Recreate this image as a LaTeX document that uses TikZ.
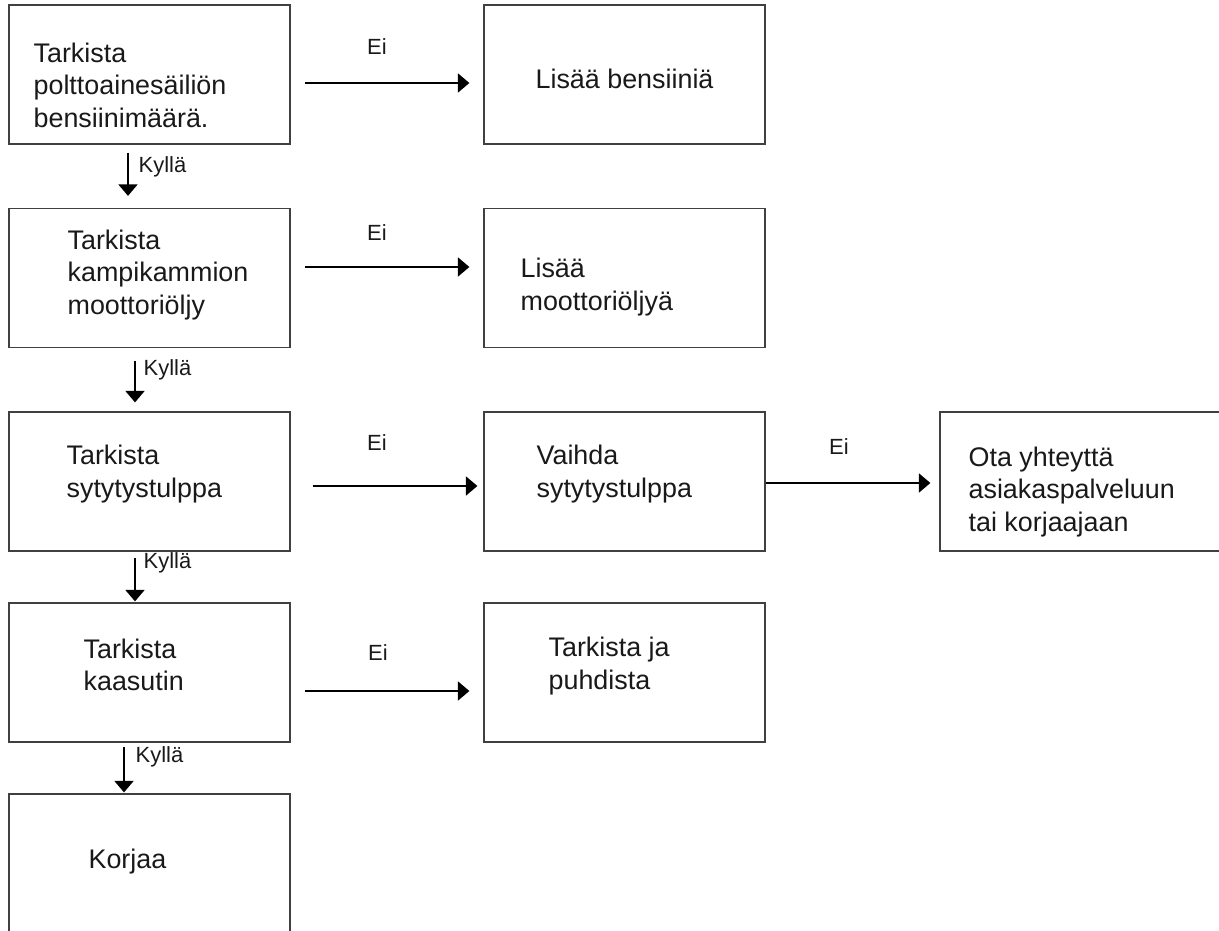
\documentclass[tikz,border=0pt]{standalone}
\usepackage{fontspec}
\setmainfont{Liberation Sans}
\usetikzlibrary{arrows.meta}

\begin{document}
\begin{tikzpicture}[line width=0.7pt,
  box/.style={draw=black!75, minimum width=5.62cm, minimum height=2.78cm, inner sep=0pt},
  txt/.style={anchor=west, align=left, inner sep=0pt, text=black!90, font=\fontsize{15.3}{18.5}\selectfont},
  lbl/.style={inner sep=0pt, text=black!90, font=\fontsize{12.5}{15}\selectfont},
  arr/.style={-{Triangle[length=0.23cm,width=0.38cm]}, line width=1.1pt}]
  \useasboundingbox (0,0) rectangle (24.38,-18.62);
  \clip (0,0) rectangle (24.38,-18.62);
  % checks on the left
  \node[box] (c1) at (2.99,-1.49) {};
  \node[box] (c2) at (2.99,-5.56) {};
  \node[box] (c3) at (2.99,-9.63) {};
  \node[box] (c4) at (2.99,-13.45) {};
  \node[box] (c5) at (2.99,-17.27) {};
  % fixes on the right
  \node[box] (f1) at (12.49,-1.49) {};
  \node[box] (f2) at (12.49,-5.56) {};
  \node[box] (f3) at (12.49,-9.63) {};
  \node[box] (f4) at (12.49,-13.45) {};
  \node[box] (f5) at (21.61,-9.63) {};
  % texts
  \node[txt] at (0.66,-1.70) {Tarkista\\polttoainesäiliön\\bensiinimäärä.};
  \node[txt] at (1.34,-5.50) {Tarkista\\kampikammion\\moottoriöljy};
  \node[txt] at (1.32,-9.48) {Tarkista\\sytytystulppa};
  \node[txt] at (1.66,-13.30) {Tarkista\\kaasutin};
  \node[txt] at (1.76,-17.24) {Korjaa};
  \node[txt] at (10.70,-1.58) {Lisää bensiiniä};
  \node[txt] at (10.40,-5.74) {Lisää\\moottoriöljyä};
  \node[txt] at (10.72,-9.48) {Vaihda\\sytytystulppa};
  \node[txt] at (10.96,-13.32) {Tarkista ja\\puhdista};
  \node[txt] at (19.36,-9.84) {Ota yhteyttä\\asiakaspalveluun\\tai korjaajaan};
  % yes arrows
  \draw[arr, shorten <=0.16cm, shorten >=0.24cm] ([xshift=-0.43cm]c1.south) -- ([xshift=-0.43cm]c2.north);
  \draw[arr, shorten <=0.26cm, shorten >=0.18cm] ([xshift=-0.29cm]c2.south) -- ([xshift=-0.29cm]c3.north);
  \draw[arr, shorten <=0.12cm, shorten >=0.02cm] ([xshift=-0.29cm]c3.south) -- ([xshift=-0.29cm]c4.north);
  \draw[arr, shorten <=0.08cm, shorten >=0.02cm] ([xshift=-0.51cm]c4.south) -- ([xshift=-0.51cm]c5.north);
  \node[lbl, anchor=west] at (2.76,-3.34) {Kyllä};
  \node[lbl, anchor=west] at (2.86,-7.40) {Kyllä};
  \node[lbl, anchor=west] at (2.86,-11.26) {Kyllä};
  \node[lbl, anchor=west] at (2.70,-15.14) {Kyllä};
  % no arrows
  \draw[arr, shorten <=0.28cm, shorten >=0.28cm] ([yshift=-0.17cm]c1.east) -- ([yshift=-0.17cm]f1.west);
  \draw[arr, shorten <=0.28cm, shorten >=0.28cm] ([yshift=0.22cm]c2.east) -- ([yshift=0.22cm]f2.west);
  \draw[arr, shorten <=0.44cm, shorten >=0.12cm] ([yshift=-0.09cm]c3.east) -- ([yshift=-0.09cm]f3.west);
  \draw[arr, shorten <=0.28cm, shorten >=0.28cm] ([yshift=-0.37cm]c4.east) -- ([yshift=-0.37cm]f4.west);
  \draw[arr, shorten >=0.18cm] ([yshift=-0.03cm]f3.east) -- ([yshift=-0.03cm]f5.west);
  \node[lbl] at (7.54,-0.94) {Ei};
  \node[lbl] at (7.54,-4.66) {Ei};
  \node[lbl] at (7.54,-8.86) {Ei};
  \node[lbl] at (7.56,-13.06) {Ei};
  \node[lbl] at (16.78,-8.94) {Ei};
\end{tikzpicture}
\end{document}
